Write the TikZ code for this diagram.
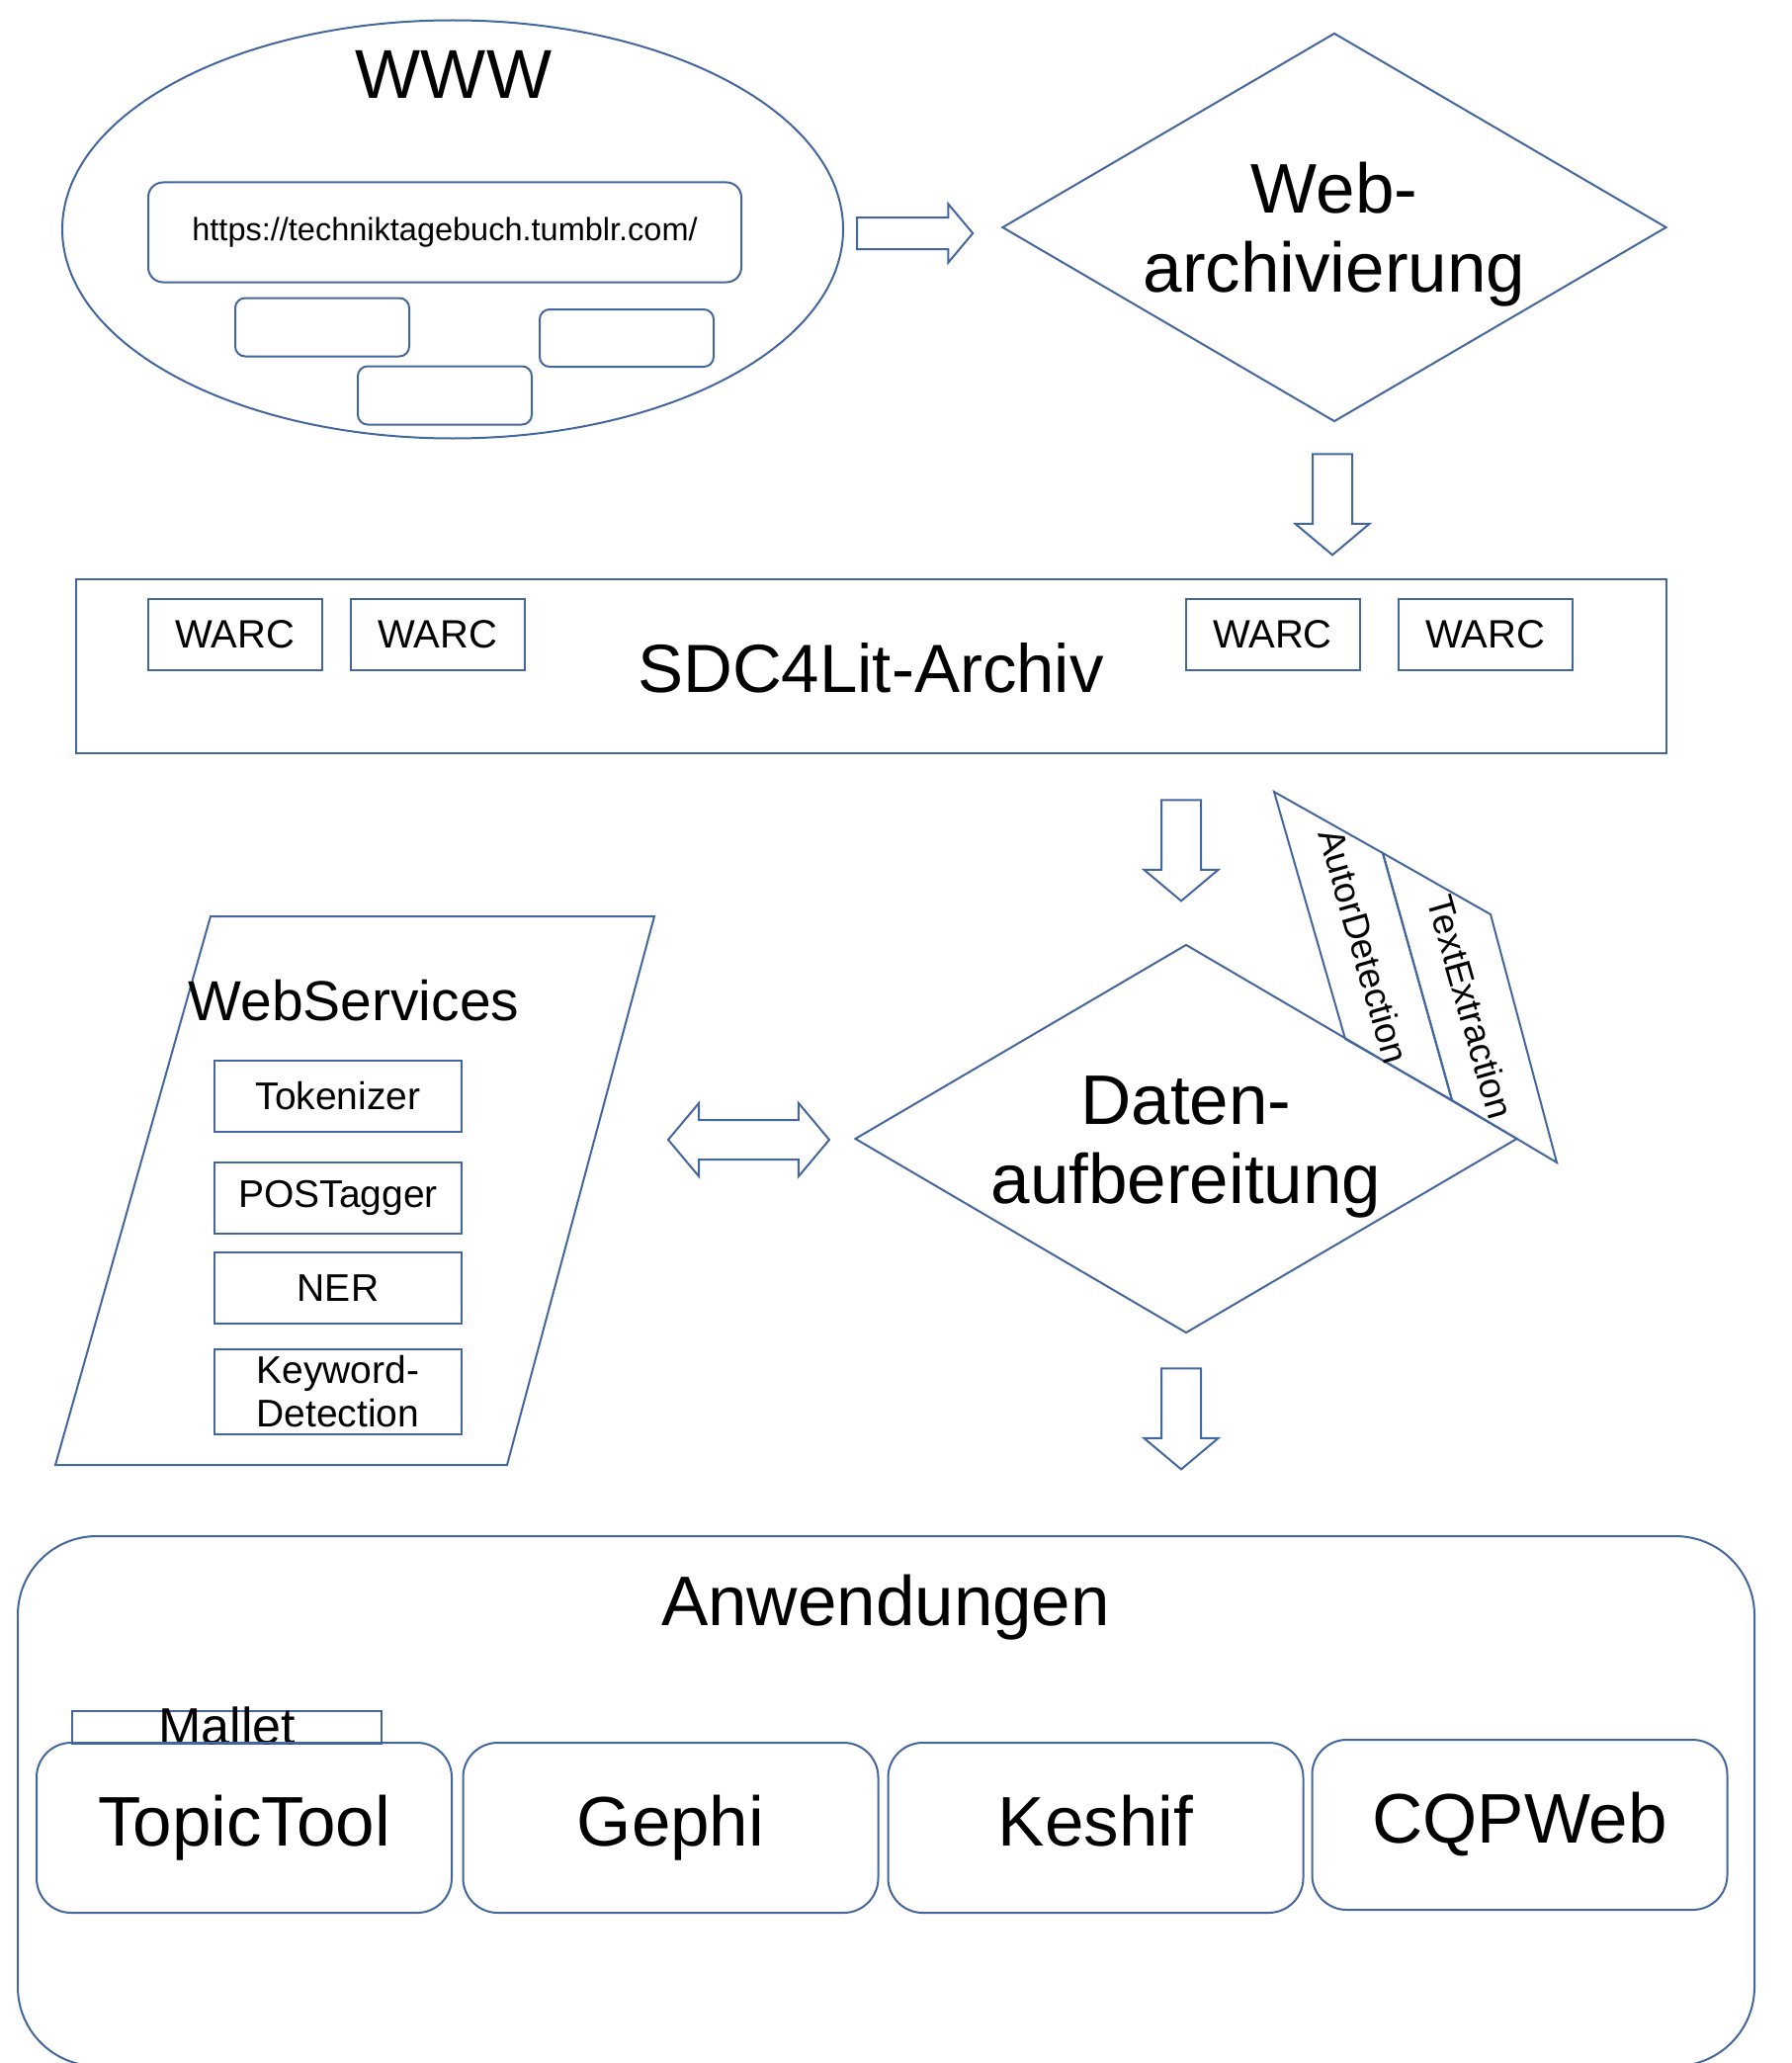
\documentclass[tikz,border=0pt]{standalone}
\usepackage{fontspec}
\setmainfont{Liberation Sans}
\usetikzlibrary{shapes, calc}
\definecolor{lineblue}{HTML}{44669E}

\begin{document}
\begin{tikzpicture}[x=1pt, y=-1pt]
      \tikzset{plain box/.style={draw=lineblue,
          line width=2pt,
          rectangle,
          inner sep=0pt},
        round box/.style={plain box, rounded corners=#1},
        round box/.default=10pt,
        warc box/.style={plain box, minimum width=176pt, minimum height=72pt,
          font=\fontsize{40}{48}\selectfont},
        service box/.style={plain box, minimum width=250pt, minimum height=72pt,
          font=\fontsize{39}{44}\selectfont, align=center},
        app box/.style={round box=35pt, minimum width=420pt, minimum height=172pt,
          font=\fontsize{71}{85}\selectfont, text height=52pt, text depth=15pt},
        block arrow/.style={single arrow, draw=lineblue, line width=2pt,
          inner xsep=0pt, minimum width=0pt, single arrow tip angle=100},
        big text/.style={font=\fontsize{71}{80}\selectfont, align=center},
        slanted text/.style={rotate=-74, font=\fontsize{37}{44}\selectfont}
      }
      \useasboundingbox (0,0) rectangle (1812,2087);
      \node [ellipse, draw=lineblue, line width=2pt, minimum width=790pt, minimum height=423pt] (www) at (458,232) {};
      \node [font=\fontsize{70}{84}\selectfont] (wwwlabel) at (459,75) {WWW};
      \node [round box=15pt, minimum width=600pt, minimum height=101pt,
        font=\fontsize{32.5}{39}\selectfont] (url) at (450,235) {https://techniktagebuch.tumblr.com/};
      \node [round box, minimum width=176pt, minimum height=59pt] (page1) at (326,331) {};
      \node [round box, minimum width=176pt, minimum height=58pt] (page2) at (634,342) {};
      \node [round box, minimum width=176pt, minimum height=59pt] (page3) at (450,400) {};
      \node [diamond, draw=lineblue, line width=2pt, inner sep=0pt, minimum width=672pt, minimum height=393pt] (webarch) at (1350,230) {};
      \node [big text] (webarchlabel) at (1350,237) {Web-\\archivierung};
      \node [block arrow, minimum height=117pt, inner ysep=15pt, single arrow head extend=13.5pt] (toweb) at (919,236) {};
      \node [block arrow, rotate=-90, minimum height=102pt, inner ysep=19pt, single arrow head extend=17.5pt] (tostore) at (1348,502) {};
      \node [plain box, minimum width=1609pt, minimum height=176pt] (archive) at (881.5,674) {};
      \node [font=\fontsize{69}{83}\selectfont] (archivelabel) at (881,676) {SDC4Lit-Archiv};
      \node [warc box] (warc1) at (238,642) {WARC};
      \node [warc box] (warc2) at (443,642) {WARC};
      \node [warc box] (warc3) at (1287.5,642) {WARC};
      \node [warc box] (warc4) at (1503,642) {WARC};
      \node [block arrow, rotate=-90, minimum height=102pt, inner ysep=19pt, single arrow head extend=17.5pt] (toprep) at (1195,852) {};
      \node [diamond, draw=lineblue, line width=2pt, inner sep=0pt, minimum width=670pt, minimum height=393pt] (daten) at (1200,1152) {};
      \node [big text] (datenlabel) at (1200,1160) {Daten-\\aufbereitung};
      \draw [lineblue, line width=2pt] (1289,801) -- (1399,863) -- (1469,1113) -- (1361,1051) -- cycle;
      \draw [lineblue, line width=2pt] (1399,863) -- (1508,925) -- (1575,1176) -- (1469,1113) -- cycle;
      \node [slanted text] (autor) at (1380,957) {AutorDetection};
      \node [slanted text] (extract) at (1488,1019) {TextExtraction};
      \draw [lineblue, line width=2pt] (213,927) -- (662,927) -- (513,1482) -- (56,1482) -- cycle;
      \node [font=\fontsize{57}{68}\selectfont] (services) at (358,1012) {WebServices};
      \node [service box] (token) at (342,1109) {Tokenizer};
      \node [service box] (pos) at (342,1212) {POSTagger};
      \node [service box] (ner) at (342,1303) {NER};
      \node [service box, minimum height=86pt] (keyword) at (342,1408) {Keyword-\\Detection};
      \node [double arrow, draw=lineblue, line width=2pt, inner xsep=0pt, minimum width=0pt, double arrow tip angle=100,
        double arrow head extend=17pt, minimum height=163pt, inner ysep=19pt] (exchange) at (757.5,1153) {};
      \node [block arrow, rotate=-90, minimum height=102pt, inner ysep=19pt, single arrow head extend=17.5pt] (toapps) at (1195,1427) {};
      \node [round box=80pt, minimum width=1757pt, minimum height=536pt] (apps) at (896.5,1822) {};
      \node [font=\fontsize{71}{85}\selectfont, anchor=base] (appslabel) at (896,1644) {Anwendungen};
      \node [plain box, minimum width=313pt, minimum height=33pt] (malletbox) at (229.5,1747.5) {};
      \node [font=\fontsize{52}{62}\selectfont, anchor=base] (mallet) at (230,1764) {Mallet};
      \node [app box] (topic) at (247,1849) {TopicTool};
      \node [app box] (gephi) at (678.5,1849) {Gephi};
      \node [app box] (keshif) at (1108.5,1849) {Keshif};
      \node [app box] (cqp) at (1537.5,1846) {CQPWeb};
\end{tikzpicture}
\end{document}
